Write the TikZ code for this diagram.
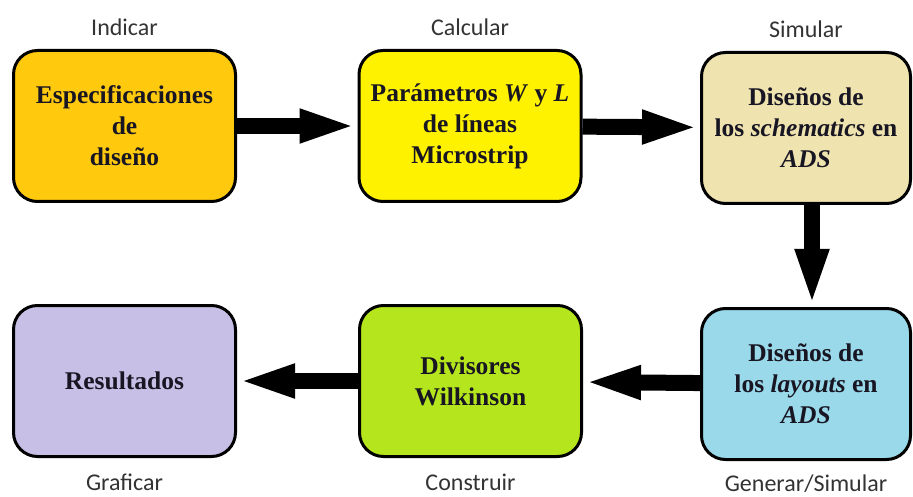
\documentclass[tikz,border=0pt]{standalone}
\usepackage{fontspec}
\setmainfont{LiberationSerif}[Extension=.ttf, UprightFont=*-Regular, BoldFont=*-Bold,
  ItalicFont=*-Italic, BoldItalicFont=*-BoldItalic]
\newfontfamily\etiqfont{Carlito}
\usetikzlibrary{arrows.meta}
\definecolor{oro}{RGB}{255,201,14}
\definecolor{amarillo}{RGB}{255,242,0}
\definecolor{crema}{RGB}{239,228,176}
\definecolor{lavanda}{RGB}{200,191,231}
\definecolor{lima}{RGB}{181,230,29}
\definecolor{celeste}{RGB}{153,217,234}
\definecolor{tinta}{RGB}{25,22,35}
\begin{document}
\begin{tikzpicture}[x=1pt,y=-1pt,label distance=10pt,
  caja/.style={draw, line width=3pt, rounded corners=24pt, minimum width=222pt, minimum height=151pt,
    align=center, text=tinta, font=\bfseries\fontsize{25.5}{31}\selectfont},
  flecha/.style={line width=16pt, -{Triangle[length=58pt,width=30pt]}},
  every label/.style={font=\etiqfont\fontsize{24}{26}\selectfont, text=black!80}]
\useasboundingbox (0,0) rectangle (913,497);
% fila de arriba
\node[caja, fill=oro, label=above:Indicar] (esp) at (124.5,126) {Especificaciones\\de\\diseño};
\node[caja, fill=amarillo, label=above:Calcular] (par) at (470,126) {Parámetros \textit{W} y \textit{L}\\de líneas\\Microstrip};
\node[caja, fill=crema, minimum width=209pt, label=above:Simular] (sch) at (806,128) {Diseños de\\los \textit{schematics} en\\\textit{ADS}};
% fila de abajo
\node[caja, fill=lavanda, label={[label distance=12pt]below:Graficar}] (res) at (124.5,381) {Resultados};
\node[caja, fill=lima, label={[label distance=12pt]below:Construir}] (div) at (470.5,381) {Divisores\\Wilkinson};
\node[caja, fill=celeste, minimum width=209pt, label={[label distance=10pt]below:Generar/Simular}] (lay) at (806,384) {Diseños de\\los \textit{layouts} en\\\textit{ADS}};
% flechas
\path[draw,flecha] (esp) -- (par);
\path[draw,flecha] (par) -- (sch);
\path[draw,flecha] ([xshift=6pt]sch.south) -- ([xshift=6pt]lay.north);
\path[draw,flecha] (lay) -- (div);
\path[draw,flecha] (div) -- (res);
\end{tikzpicture}
\end{document}
